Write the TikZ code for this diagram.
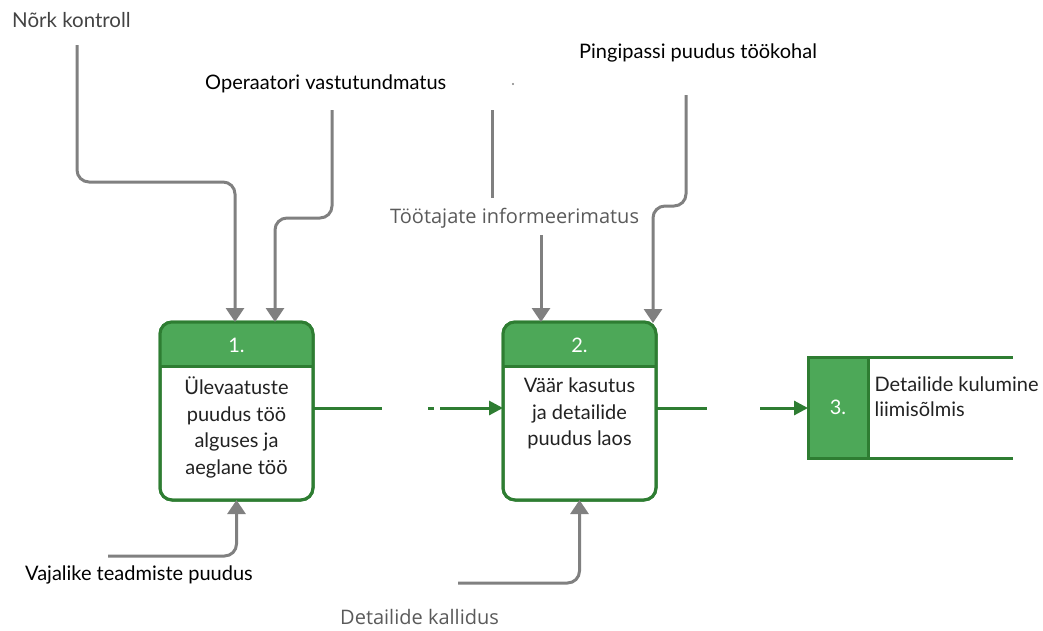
\documentclass[tikz,border=0pt]{standalone}
\usepackage{fontspec}
\setmainfont{Lato}
\newfontfamily\opensans{Open Sans}
\usetikzlibrary{arrows.meta, positioning}
\definecolor{boxgreen}{RGB}{46,125,50}
\definecolor{headgreen}{RGB}{77,168,88}
\definecolor{causegray}{RGB}{128,128,128}
\definecolor{labelgray}{RGB}{90,90,90}
\definecolor{darktext}{RGB}{34,34,34}
\tikzset{
causeline/.style={draw=causegray, line width=3pt, rounded corners=12pt}, % gray input lines
cause/.style={causeline, -{Triangle[width=18pt,length=14pt]}}, % gray input arrows
flow/.style={draw=boxgreen, line width=3pt}, % green links between the steps
flowarrow/.style={flow, -{Triangle[width=14pt,length=14pt]}},
stepbox/.style={draw=boxgreen, line width=3pt, rounded corners=12pt, minimum width=153pt, minimum height=178pt, outer sep=0pt, fill=white},
headtext/.style={text=white, font=\fontsize{20}{24}\selectfont},
boxtext/.style={text=darktext, align=center, font=\fontsize{20}{26.5}\selectfont},
causetext/.style={anchor=west, inner sep=0pt, font=\fontsize{20}{24}\selectfont},
}
\begin{document}
\begin{tikzpicture}[x=1pt, y=-1pt]%pixel units, y grows downwards
  \useasboundingbox (0,0) rectangle (1043,630);

  % steps 1 and 2
  \node[stepbox] (b1) at (236.5,411) {};
  \node[stepbox] (b2) at (579.5,411) {};
  \coordinate (h) at (0,366);
  \foreach \b in {b1,b2}{
    \fill[headgreen] (\b.west |- h) [rounded corners=12pt] -- (\b.north west) -- (\b.north east) [sharp corners] -- (\b.east |- h) -- cycle;
    \draw[flow] (\b.west |- h) -- (\b.east |- h);
    \draw[stepbox, fill=none] (\b.south west) rectangle (\b.north east);
  }
  \node[headtext] (n1) at (236.5,345) {1.};
  \node[headtext] (n2) at (579.5,345) {2.};
  \node[boxtext] (t1) at (236.5,427.5) {Ülevaatuste\\puudus töö\\alguses ja\\aeglane töö};
  \node[boxtext] (t2) at (579.5,413.5) {Väär kasutus\\ja detailide\\puudus laos};

  % step 3
  \node[draw=boxgreen, fill=headgreen, line width=3pt, minimum width=60pt, minimum height=101pt, outer sep=0pt, text=white, font=\fontsize{20}{24}\selectfont] (b3) at (838,407.5) {3.};
  \coordinate (e3a) at (1013,357);
  \coordinate (e3b) at (1013,458);
  \draw[flow] (b3.north east) -- (e3a);
  \draw[flow] (b3.south east) -- (e3b);
  \node[anchor=west, align=left, text=darktext, font=\fontsize{20}{25}\selectfont] (t3) at (871,397) {Detailide kulumine\\liimisõlmis};

  % links between the steps
  \coordinate (f1a) at (382,408);
  \coordinate (f1b) at (428,408);
  \coordinate (f1c) at (434,408);
  \coordinate (f1d) at (440,408);
  \coordinate (f2a) at (707,408);
  \coordinate (f2b) at (760,408);
  \draw[flow] (b1.east |- f1a) -- (f1a);
  \draw[flow] (f1b) -- (f1c);
  \draw[flowarrow] (f1d) -- (b2.west |- f1d);
  \draw[flow] (b2.east |- f2a) -- (f2a);
  \draw[flowarrow] (f2b) -- (b3.west |- f2b);

  % causes
  \node[causetext, text=darktext!85, font=\fontsize{20.5}{24}\selectfont] (nk) at (12,20) {Nõrk kontroll};
  \node[causetext, text=black] (ov) at (205,84) {Operaatori vastutundmatus};
  \node[causetext, text=black] (pp) at (579,53) {Pingipassi puudus töökohal};
  \node[causetext, text=labelgray, font=\opensans\fontsize{20}{24}\selectfont] (ti) at (390,218) {Töötajate informeerimatus};
  \node[causetext, text=black] (vt) at (25,575) {Vajalike teadmiste puudus};
  \node[causetext, text=labelgray, font=\opensans\fontsize{20}{24}\selectfont] (dk) at (340,617) {Detailide kallidus};
  \fill[causegray] (513,84) circle (1.2pt);

  \coordinate (nk0) at (77,45);
  \coordinate (ov0) at (332,110);
  \coordinate (pp0) at (686,95);
  \coordinate (ti0) at (541,235);
  \coordinate (vt0) at (108,556);
  \coordinate (dk0) at (458,583);
  \coordinate (l0) at (492,110);
  \coordinate (l1) at (492,198);

  \draw[cause] (nk0) -- (77,182) -- (235,182) -- ([xshift=-1.5pt]b1.north);
  \draw[cause] (ov0) -- (332,218) -- (275,218) -- ([xshift=38.5pt]b1.north);
  \draw[causeline] (l0) -- (l1);
  \draw[cause] (ti0) -- ([xshift=-38.5pt]b2.north);
  \draw[cause] (pp0) -- (686,206) -- (653,206) -- ([xshift=73.5pt,yshift=-1pt]b2.north);
  \draw[cause] (vt0) -- (236.5,556) -- (b1.south);
  \draw[cause] (dk0) -- (579.5,583) -- (b2.south);
\end{tikzpicture}
\end{document}
